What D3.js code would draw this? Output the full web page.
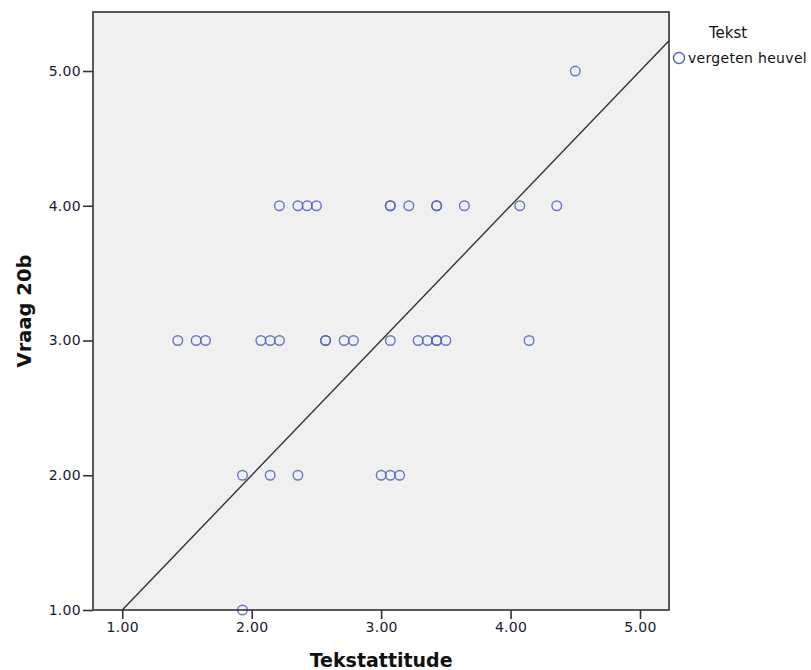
<!DOCTYPE html>
<html>
<head>
<meta charset="utf-8">
<script src="https://cdn.jsdelivr.net/npm/d3@7"></script>
<style>
  body { margin: 0; background: #fff; }
  svg { font-family: "DejaVu Sans", sans-serif; }
</style>
</head>
<body>
<svg id="chart" width="811" height="670"></svg>
<script>
// Tekstattitude (x) values per Vraag 20b answer (y)
const xAt5 = [4.5];
const xAt4 = [2.214, 2.357, 2.429, 2.5, 3.071, 3.071, 3.214, 3.429, 3.429, 3.643, 4.071, 4.357];
const xAt3 = [1.429, 1.571, 1.643, 2.071, 2.143, 2.214, 2.571, 2.571, 2.714, 2.786, 3.071, 3.286, 3.357, 3.429, 3.429, 3.5, 4.143];
const xAt2 = [1.929, 2.143, 2.357, 3.0, 3.071, 3.143];
const xAt1 = [1.929];

const xTicks = [1, 2, 3, 4, 5];
const yTicks = [1, 2, 3, 4, 5];
const legendTitle = "Tekst";
const legendLabel = "vergeten heuvel";

// build point list
const points = [];
[[5, xAt5], [4, xAt4], [3, xAt3], [2, xAt2], [1, xAt1]].forEach(([y, xs]) => {
    xs.forEach(x => points.push({ x: x, y: y }));
});

// plot box
const margin = { top: 12, left: 93 };
const width = 576;
const height = 598;

const svg = d3.select("#chart");
const g = svg.append("g")
    .attr("transform", `translate(${margin.left},${margin.top})`);

const xScale = d3.scaleLinear().domain([0.774, 5.224]).range([0, width]);
const yScale = d3.scaleLinear().domain([1, 5.438]).range([height, 0]);

// background panel
g.append("rect")
    .attr("width", width)
    .attr("height", height)
    .style("fill", "#f0f0f0");

// reference line y = x
const xMax = xScale.domain()[1];
g.append("line")
    .attr("x1", xScale(1)).attr("y1", yScale(1))
    .attr("x2", xScale(xMax)).attr("y2", yScale(xMax))
    .style("stroke", "#333")
    .style("stroke-width", 1.4);

// points
g.selectAll("circle.pt")
    .data(points)
    .enter().append("circle")
    .attr("class", "pt")
    .attr("cx", d => xScale(d.x))
    .attr("cy", d => yScale(d.y))
    .attr("r", 4.8)
    .style("fill", "none")
    .style("stroke", "#4f62be")
    .style("stroke-width", 1.4)
    .style("stroke-opacity", 0.85);

// frame
g.append("rect")
    .attr("width", width)
    .attr("height", height)
    .style("fill", "none")
    .style("stroke", "#333")
    .style("stroke-width", 1.6);

// axes
const xAxis = g.append("g")
    .attr("transform", `translate(0,${height})`)
    .call(d3.axisBottom(xScale).tickValues(xTicks).tickFormat(d3.format(".2f"))
        .tickSize(9).tickPadding(3).tickSizeOuter(0));
const yAxis = g.append("g")
    .call(d3.axisLeft(yScale).tickValues(yTicks).tickFormat(d3.format(".2f"))
        .tickSize(10).tickPadding(2).tickSizeOuter(0));

[xAxis, yAxis].forEach(ax => {
    ax.select(".domain").remove();
    ax.selectAll("line").style("stroke", "#333").style("stroke-width", 1.6);
    ax.selectAll("text")
        .style("font-family", "'DejaVu Sans', sans-serif")
        .style("font-size", "14px")
        .style("letter-spacing", "0.3px")
        .style("fill", "#1a1a2e");
});

// axis titles
svg.append("text")
    .attr("x", margin.left + xScale(3.0))
    .attr("y", 667)
    .attr("text-anchor", "middle")
    .style("font-size", "19px")
    .style("font-weight", "bold")
    .style("fill", "#111")
    .text("Tekstattitude");

svg.append("text")
    .attr("transform", "translate(31,311) rotate(-90)")
    .attr("text-anchor", "middle")
    .style("font-size", "19.5px")
    .style("font-weight", "bold")
    .style("fill", "#111")
    .text("Vraag 20b");

// legend
svg.append("text")
    .attr("x", 728)
    .attr("y", 38)
    .attr("text-anchor", "middle")
    .style("font-size", "15px")
    .style("fill", "#111")
    .text(legendTitle);

svg.append("circle")
    .attr("cx", 679)
    .attr("cy", 58)
    .attr("r", 5.5)
    .style("fill", "none")
    .style("stroke", "#4f62be")
    .style("stroke-width", 1.4);

svg.append("text")
    .attr("x", 688)
    .attr("y", 63)
    .style("font-size", "14px")
    .style("letter-spacing", "0.3px")
    .style("fill", "#111")
    .text(legendLabel);
</script>
</body>
</html>
